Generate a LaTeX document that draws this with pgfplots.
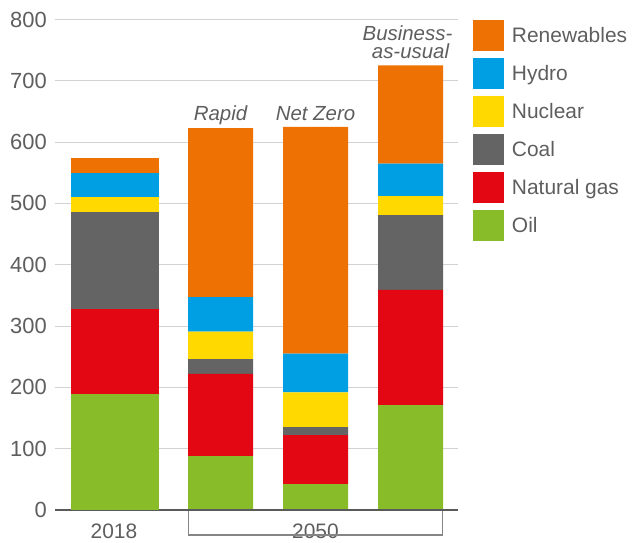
\documentclass[border=0pt]{standalone}
\usepackage{fontspec}
\setmainfont{Liberation Sans}
\usepackage{pgfplots}
\pgfplotsset{compat=1.18}
\definecolor{cRen}{HTML}{EE7203}
\definecolor{cHyd}{HTML}{009FE3}
\definecolor{cNuc}{HTML}{FFD900}
\definecolor{cCoal}{HTML}{646464}
\definecolor{cGas}{HTML}{E30613}
\definecolor{cOil}{HTML}{88BC29}
\definecolor{txt}{HTML}{5E5E5E}
\definecolor{gridc}{HTML}{D2D2D2}
\definecolor{axc}{HTML}{5A5A5A}
\definecolor{brc}{HTML}{858585}
\pgfplotsset{
  base/.style={
    scale only axis, width=403bp, height=490.5bp,
    xmin=0, xmax=403, ymin=0, ymax=800,
    ybar stacked, bar shift=0pt, clip=false,
  }
}
\tikzset{lab/.style={font=\fontsize{21}{24}\selectfont, text=txt, inner sep=0pt},
  ilab/.style={font=\fontsize{20.5}{24}\selectfont\itshape, text=txt, inner sep=0pt, anchor=base}}
\begin{document}
\begin{tikzpicture}
\useasboundingbox (-55bp,-33bp) rectangle (577bp,510bp);
\begin{axis}[base, bar width=65,
  axis line style={draw=none},
  xtick=\empty,
  ytick={0,100,...,800},
  major tick length=0pt,
  ymajorgrids,
  grid style={color=gridc, line width=1bp},
  /pgf/number format/assume math mode=true,
  yticklabel style={font=\fontsize{22}{24}\selectfont, text=txt, anchor=east, inner sep=0pt, xshift=-8bp},
  legend style={at={(axis description cs:1.0372,1)}, anchor=north west, draw=none, fill=none,
    inner sep=0pt, outer sep=0pt, row sep=7bp, column sep=8bp,
    font=\fontsize{21}{24}\selectfont, text=txt, nodes={inner sep=0pt}},
  legend cell align=left,
  reverse legend,
  legend image code/.code={\fill[#1] (0bp,-15bp) rectangle (31bp,16bp);},
]
\addplot[fill=cOil, draw=none] coordinates {(165.5,88) (260.5,42) (355.5,171)};
\addplot[fill=cGas, draw=none] coordinates {(165.5,134) (260.5,80) (355.5,188)};
\addplot[fill=cCoal, draw=none] coordinates {(165.5,24) (260.5,13) (355.5,122)};
\addplot[fill=cNuc, draw=none] coordinates {(165.5,45) (260.5,57) (355.5,31)};
\addplot[fill=cHyd, draw=none] coordinates {(165.5,56) (260.5,63) (355.5,53)};
\addplot[fill=cRen, draw=none] coordinates {(165.5,276) (260.5,370) (355.5,160)};
\legend{Oil, Natural gas, Coal, Nuclear, Hydro, Renewables}
\end{axis}
\begin{axis}[base, bar width=88, axis line style={draw=none}, xtick=\empty, ytick=\empty]
\addplot[fill=cOil, draw=none] coordinates {(60,190)};
\addplot[fill=cGas, draw=none] coordinates {(60,138)};
\addplot[fill=cCoal, draw=none] coordinates {(60,158)};
\addplot[fill=cNuc, draw=none] coordinates {(60,25)};
\addplot[fill=cHyd, draw=none] coordinates {(60,38)};
\addplot[fill=cRen, draw=none] coordinates {(60,25)};
\draw[color=axc, line width=1.6bp] (axis cs:0,0) -- (axis cs:403,0);
\draw[color=brc, line width=1.1bp] (axis cs:133.3,0) -- (axis cs:133.3,-40.8) -- (axis cs:387.7,-40.8) -- (axis cs:387.7,0);
\node[lab, anchor=base] at (axis cs:59,-47) {2018};
\node[lab, anchor=base, fill=white, inner xsep=3.5bp, inner ysep=0.5bp] at (axis cs:260.5,-47) {2050};
\node[ilab] at (axis cs:165.5,634.5) {Rapid};
\node[ilab] at (axis cs:260.5,634.5) {Net Zero};
\node[ilab] at (axis cs:352.5,766) {Business-};
\node[ilab] at (axis cs:355.5,736) {as-usual};
\end{axis}
\end{tikzpicture}
\end{document}
